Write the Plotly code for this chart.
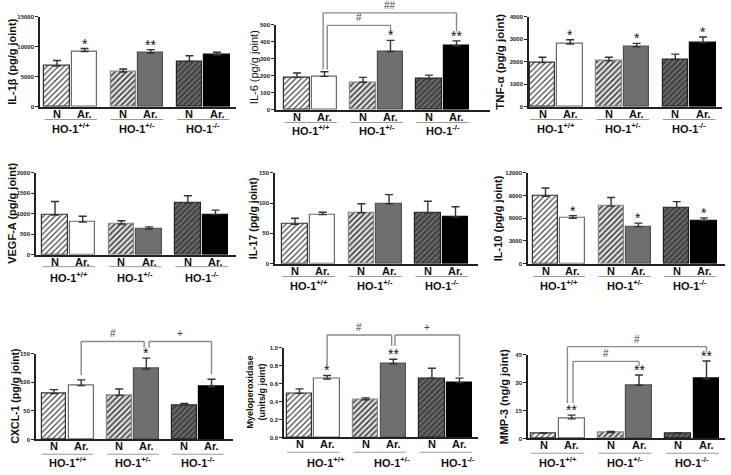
import plotly.graph_objects as go

W, H = 731, 475

# ---------------- data ----------------
groups = ["HO-1<sup>+/+</sup>", "HO-1<sup>+/-</sup>", "HO-1<sup>-/-</sup>"]
conds = ["N", "Ar.", "N", "Ar.", "N", "Ar."]
xpos = [0, 1, 2.4, 3.4, 4.8, 5.8]

il1b_mean = [6800, 9200, 5800, 8950, 7550, 8600]
il1b_err = [900, 500, 480, 580, 950, 480]
il1b_sig = ["", "*", "", "**", "", ""]

il6_mean = [190, 196, 161, 342, 181, 376]
il6_err = [26, 27, 29, 66, 22, 29]
il6_sig = ["", "", "", "*", "", "**"]

tnf_mean = [1960, 2790, 2040, 2660, 2100, 2850]
tnf_err = [240, 190, 160, 160, 240, 250]
tnf_sig = ["", "*", "", "*", "", "*"]

vegf_mean = [970, 800, 750, 630, 1260, 980]
vegf_err = [330, 140, 80, 50, 180, 110]
vegf_sig = ["", "", "", "", "", ""]

il17_mean = [65, 81, 84, 99, 84, 77]
il17_err = [10, 4, 15, 15, 19, 17]
il17_sig = ["", "", "", "", "", ""]

il10_mean = [8900, 6000, 7600, 4900, 7400, 5700]
il10_err = [1100, 350, 1150, 450, 800, 350]
il10_sig = ["", "*", "", "*", "", "*"]

cxcl1_mean = [80, 94, 77, 123, 60, 92]
cxcl1_err = [7, 10, 11, 19, 3, 13]
cxcl1_sig = ["", "", "", "*", "", ""]

mpo_mean = [0.49, 0.65, 0.42, 0.82, 0.66, 0.61]
mpo_err = [0.05, 0.04, 0.02, 0.05, 0.11, 0.05]
mpo_sig = ["", "*", "", "**", "", ""]

mmp3_mean = [2.7, 10.5, 3.2, 28.5, 2.8, 32]
mmp3_err = [0.3, 2, 0.5, 5.5, 0.3, 9.5]
mmp3_sig = ["", "**", "", "**", "", "**"]

# brackets: (left bar, right bar, level, left leg end, right leg end, label, left offset, right offset)
il6_brackets = [(1, 3, 496, 236, 458, "#", 0.1, 0.0), (1, 5, 570, 236, 460, "##", -0.05, 0.0)]
cxcl1_brackets = [(1, 3, 171, 112, 160, "#", 0.0, -0.08), (3, 5, 171, 160, 114, "+", 0.1, 0.0)]
mpo_brackets = [(1, 3, 1.14, 0.80, 1.02, "#", 0.0, -0.06), (3, 5, 1.14, 1.02, 0.68, "+", 0.06, 0.0)]
mmp3_brackets = [(1, 3, 41.3, 19, 39, "#", 0.05, 0.0), (1, 5, 49.2, 19, 46.5, "#", -0.15, 0.0)]

# ---------------- styles ----------------
bar_color = ["#ffffff", "#ffffff", "#e6e6e6", "#6f6f6f", "#858585", "#000000"]
line_color = ["#333333", "#6a6a6a", "#8a8a8a", "#505050", "#222222", "#000000"]
pat_shape = ["/", "", "/", "", "/", ""]
pat_fg = ["#1a1a1a", "#1a1a1a", "#7a7a7a", "#1a1a1a", "#0d0d0d", "#1a1a1a"]
pat_sol = [0.3, 0.3, 0.45, 0.3, 0.72, 0.3]

FONT = "Liberation Sans, Arial, sans-serif"

panels = [
    dict(mean=il1b_mean, err=il1b_err, sig=il1b_sig, ymax=15000, dtick=5000, fmt="d",
         title="IL-1β (pg/g joint)", tsize=11, tbold=True, tdx=28,
         left=40, n1c=57, ar3c=217, right=236, top=14, base=105, ul=13, ho=22, hos=0, br=[]),
    dict(mean=il6_mean, err=il6_err, sig=il6_sig, ymax=500, dtick=100, fmt="d",
         title="IL-6 (pg/g joint)", tsize=11, tbold=False, tdx=22,
         left=276, n1c=297, ar3c=456.5, right=490, top=22, base=108, ul=13, ho=21, hos=0, br=il6_brackets),
    dict(mean=tnf_mean, err=tnf_err, sig=tnf_sig, ymax=4000, dtick=1000, fmt="d",
         title="TNF-α (pg/g joint)", tsize=11.5, tbold=True, tdx=29,
         left=529, n1c=542.5, ar3c=703, right=722, top=14, base=105, ul=13, ho=22, hos=0, br=[]),
    dict(mean=vegf_mean, err=vegf_err, sig=vegf_sig, ymax=2000, dtick=500, fmt="d",
         title="VEGF-A (pg/g joint)", tsize=11, tbold=True, tdx=24,
         left=36, n1c=55, ar3c=215.5, right=236, top=172, base=255, ul=12, ho=22, hos=0, br=[]),
    dict(mean=il17_mean, err=il17_err, sig=il17_sig, ymax=150, dtick=50, fmt="d",
         title="IL-17 (pg/g joint)", tsize=10.5, tbold=True, tdx=22,
         left=275, n1c=295, ar3c=455.5, right=478, top=172, base=264, ul=13, ho=22, hos=0, br=[]),
    dict(mean=il10_mean, err=il10_err, sig=il10_sig, ymax=12000, dtick=3000, fmt="d",
         title="IL-10 (pg/g joint)", tsize=11, tbold=True, tdx=30,
         left=528, n1c=545.5, ar3c=704, right=725, top=172, base=264, ul=13, ho=22, hos=0, br=[]),
    dict(mean=cxcl1_mean, err=cxcl1_err, sig=cxcl1_sig, ymax=150, dtick=50, fmt="d",
         title="CXCL-1 (pg/g joint)", tsize=10.5, tbold=True, tdx=21,
         left=36, n1c=54, ar3c=211.5, right=233, top=355, base=442, ul=15, ho=23, hos=0, br=cxcl1_brackets),
    dict(mean=mpo_mean, err=mpo_err, sig=mpo_sig, ymax=1.0, dtick=0.2, fmt=".1f",
         title="Myeloperoxidase<br>(units/g joint)", tsize=9, tbold=True, tdx=28,
         left=284, n1c=299.5, ar3c=459.5, right=478, top=349, base=440, ul=15, ho=25, hos=0.45, br=mpo_brackets),
    dict(mean=mmp3_mean, err=mmp3_err, sig=mmp3_sig, ymax=45, dtick=15, fmt="d",
         title="MMP-3 (ng/g joint)", tsize=11, tbold=True, tdx=24,
         left=528, n1c=543.5, ar3c=706.5, right=725, top=356, base=441, ul=15, ho=24, hos=0, br=mmp3_brackets),
]


def pyp(py):
    return 1 - py / H


fig = go.Figure()
shapes = []
annos = []
layout_axes = {}

for k, p in enumerate(panels, start=1):
    xa = f"x{k}"
    ya = f"y{k}"
    unit = (p["ar3c"] - p["n1c"]) / (xpos[-1] - xpos[0])
    x0 = xpos[0] - (p["n1c"] - p["left"]) / unit
    x1 = xpos[-1] + (p["right"] - p["ar3c"]) / unit

    fig.add_trace(go.Bar(
        x=xpos, y=p["mean"], width=0.92, xaxis=xa, yaxis=ya, showlegend=False,
        marker=dict(color=bar_color, line=dict(color=line_color, width=1.2),
                    pattern=dict(shape=pat_shape, fgcolor=pat_fg, fgopacity=1,
                                 size=4, solidity=pat_sol, fillmode="overlay")),
        error_y=dict(type="data", array=p["err"], arrayminus=[0] * 6, symmetric=False,
                     color="#333333", thickness=1.4, width=4),
    ))

    layout_axes[f"xaxis{k}"] = dict(
        domain=[p["left"] / W, p["right"] / W], anchor=ya, range=[x0, x1],
        showline=True, linecolor="#222222", linewidth=1.5, ticks="",
        showticklabels=False, showgrid=False, zeroline=False, fixedrange=True,
    )
    layout_axes[f"yaxis{k}"] = dict(
        domain=[pyp(p["base"]), pyp(p["top"])], anchor=xa, range=[0, p["ymax"]],
        showline=True, linecolor="#222222", linewidth=1.5, ticks="outside",
        ticklen=3, tickwidth=1, tickcolor="#222222", tick0=0, dtick=p["dtick"],
        tickformat=p["fmt"], showgrid=False, zeroline=False,
        tickfont=dict(family=FONT, size=6, color="#222222", weight="bold"),
        fixedrange=True,
    )

    # y title
    annos.append(dict(
        xref="paper", yref="paper", x=(p["left"] - p["tdx"]) / W,
        y=(pyp(p["base"]) + pyp(p["top"])) / 2, text=p["title"], textangle=-90,
        showarrow=False, xanchor="center", yanchor="middle",
        font=dict(family=FONT, size=p["tsize"], color="#111111",
                  weight="bold" if p["tbold"] else "normal"),
    ))

    # condition labels under each bar
    for j in range(6):
        annos.append(dict(xref=xa, yref="paper", x=xpos[j], y=pyp(p["base"] + 7),
                          text=conds[j], showarrow=False, xanchor="center", yanchor="middle",
                          font=dict(family=FONT, size=11, color="#111111", weight="bold")))

    # group underline + HO-1 labels
    for g in range(3):
        shapes.append(dict(type="line", xref=xa, yref="paper",
                           x0=xpos[2 * g] - 0.45, x1=xpos[2 * g + 1] + 0.45,
                           y0=pyp(p["base"] + p["ul"]), y1=pyp(p["base"] + p["ul"]),
                           line=dict(color="#9a9a9a", width=1)))
        annos.append(dict(xref=xa, yref="paper",
                          x=(xpos[2 * g] + xpos[2 * g + 1]) / 2 + p["hos"],
                          y=pyp(p["base"] + p["ho"]), text=groups[g], showarrow=False,
                          xanchor="center", yanchor="middle",
                          font=dict(family=FONT, size=11, color="#111111", weight="bold")))

    # significance stars
    for j in range(6):
        if p["sig"][j]:
            annos.append(dict(xref=xa, yref=ya, x=xpos[j], y=p["mean"][j] + p["err"][j],
                              text=p["sig"][j], showarrow=False, xanchor="center",
                              yanchor="bottom", yshift=-5,
                              font=dict(family=FONT, size=14, color="#111111")))

    # brackets
    yd = f"{ya} domain"
    for (a, b, lev, lb, rb, lab, lo, ro) in p["br"]:
        xl = xpos[a] + lo
        xr = xpos[b] + ro
        ymx = p["ymax"]
        bl = dict(color="#8a8a8a", width=1.4)
        shapes.append(dict(type="line", xref=xa, yref=yd, x0=xl, x1=xl, y0=lb / ymx, y1=lev / ymx, line=bl))
        shapes.append(dict(type="line", xref=xa, yref=yd, x0=xl, x1=xr, y0=lev / ymx, y1=lev / ymx, line=bl))
        shapes.append(dict(type="line", xref=xa, yref=yd, x0=xr, x1=xr, y0=rb / ymx, y1=lev / ymx, line=bl))
        annos.append(dict(xref=xa, yref=yd, x=(xl + xr) / 2, y=lev / ymx, text=lab,
                          showarrow=False, xanchor="center", yanchor="bottom", yshift=0,
                          font=dict(family=FONT, size=10, color="#444444")))

fig.update_layout(
    width=W, height=H, margin=dict(l=0, r=0, t=0, b=0),
    paper_bgcolor="white", plot_bgcolor="white",
    bargap=0, shapes=shapes, annotations=annos, showlegend=False,
    **layout_axes,
)

fig.write_html("out.html", config={"displayModeBar": False},
               post_script="document.body.style.margin='0';document.body.style.overflow='hidden';")
